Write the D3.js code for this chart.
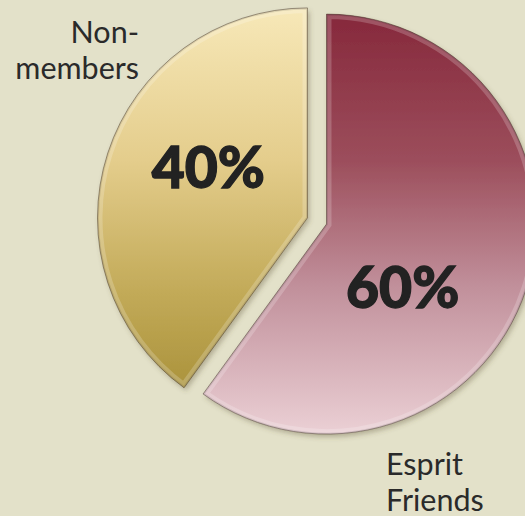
<!DOCTYPE html>
<html>
<head>
<meta charset="utf-8">
<script src="https://cdn.jsdelivr.net/npm/d3@7"></script>
<style>
  html, body { margin: 0; padding: 0; background: #e3e1c9; }
  svg { display: block; }
</style>
</head>
<body>
<svg id="chart"></svg>
<script>
const categories = ["Esprit Friends", "Non-members"]
const values = [60, 40]
const percentLabels = ["60%", "40%"]

const width = 525
const height = 516
const cx = 317
const cy = 221
const radius = 210
const explode = 10

const svg = d3.select("#chart")
    .attr("width", width)
    .attr("height", height)

svg.append("rect")
    .attr("width", width)
    .attr("height", height)
    .attr("fill", "#e3e1c9")

const defs = svg.append("defs")

// gradients, top to bottom
const gradStops = [
    [["0", "#86283b"], ["0.35", "#9c4e5c"], ["0.65", "#c1909b"], ["1", "#ebd0d5"]],
    [["0", "#f7e8b8"], ["0.4", "#e4cd8c"], ["0.75", "#c2aa58"], ["1", "#ab933c"]]
]

gradStops.forEach((stops, i) => {
    const g = defs.append("linearGradient")
        .attr("id", "grad" + i)
        .attr("x1", 0).attr("y1", 0)
        .attr("x2", 0).attr("y2", 1)
    stops.forEach(s => {
        g.append("stop").attr("offset", s[0]).attr("stop-color", s[1])
    })
})

const shadow = defs.append("filter")
    .attr("id", "shadow")
    .attr("x", "-10%").attr("y", "-10%")
    .attr("width", "130%").attr("height", "130%")
shadow.append("feDropShadow")
    .attr("dx", 2)
    .attr("dy", 3)
    .attr("stdDeviation", 2.5)
    .attr("flood-color", "#5a5030")
    .attr("flood-opacity", 0.35)

const pie = d3.pie()
    .sort(null)
    .startAngle(0)
    .endAngle(2 * Math.PI)

const arc = d3.arc()
    .innerRadius(0)
    .outerRadius(radius)

const arcs = pie(values)

const g = svg.append("g")
    .attr("transform", `translate(${cx},${cy})`)

const slices = g.selectAll("g.slice")
    .data(arcs)
    .join("g")
    .attr("class", "slice")
    .attr("transform", d => {
        const mid = (d.startAngle + d.endAngle) / 2
        return `translate(${explode * Math.sin(mid)},${-explode * Math.cos(mid)})`
    })

slices.each(function(d, i) {
    const sl = d3.select(this)
    defs.append("clipPath")
        .attr("id", "clip" + i)
        .append("path")
        .attr("d", arc(d))

    sl.append("path")
        .attr("d", arc(d))
        .attr("fill", "url(#grad" + i + ")")
        .attr("filter", "url(#shadow)")

    // soft bevel inside the edge
    sl.append("path")
        .attr("d", arc(d))
        .attr("fill", "none")
        .attr("stroke", "#ffffff")
        .attr("stroke-opacity", 0.2)
        .attr("stroke-width", 10)
        .attr("clip-path", "url(#clip" + i + ")")

    sl.append("path")
        .attr("d", arc(d))
        .attr("fill", "none")
        .attr("stroke", "#000000")
        .attr("stroke-opacity", 0.1)
        .attr("stroke-width", 3)
        .attr("clip-path", "url(#clip" + i + ")")

    sl.append("path")
        .attr("d", arc(d))
        .attr("fill", "none")
        .attr("stroke", "#3a2a20")
        .attr("stroke-opacity", 0.45)
        .attr("stroke-width", 1)
})

// percent labels, polar offset from each slice's tip
const labelPolar = [[129, 98], [297.7, 112]]

slices.append("text")
    .text((d, i) => percentLabels[i])
    .attr("x", (d, i) => labelPolar[i][1] * Math.sin(labelPolar[i][0] * Math.PI / 180))
    .attr("y", (d, i) => -labelPolar[i][1] * Math.cos(labelPolar[i][0] * Math.PI / 180))
    .attr("text-anchor", "middle")
    .attr("dominant-baseline", "central")
    .attr("font-family", "Lato, sans-serif")
    .attr("font-weight", 900)
    .attr("font-size", 57)
    .attr("fill", "#222222")
    .attr("stroke", "#222222")
    .attr("stroke-width", 1.3)

// category labels
const catLabels = [
    { lines: ["Esprit", "Friends"], x: 386, y: 475, anchor: "start" },
    { lines: ["Non-", "members"], x: 139, y: 43, anchor: "end" }
]

catLabels.forEach(c => {
    const t = svg.append("text")
        .attr("font-family", "Lato, sans-serif")
        .attr("font-size", 30.5)
        .attr("fill", "#2a2a2a")
        .attr("text-anchor", c.anchor)
    c.lines.forEach((line, j) => {
        t.append("tspan")
            .attr("x", c.x)
            .attr("y", c.y + j * 36)
            .text(line)
    })
})
</script>
</body>
</html>
